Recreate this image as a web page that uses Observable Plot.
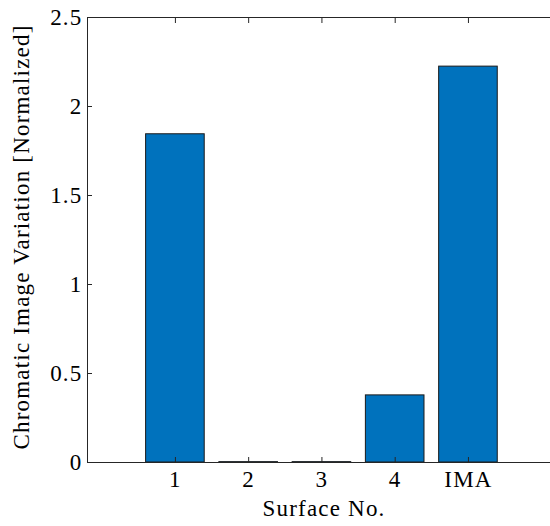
<!DOCTYPE html>
<html>
<head>
<meta charset="utf-8">
<script src="https://cdn.jsdelivr.net/npm/d3@7"></script>
<script src="https://cdn.jsdelivr.net/npm/@observablehq/plot@0.6"></script>
<style>
  html, body { margin: 0; padding: 0; background: #fff; }
  #chart svg { display: block; }
  #chart svg text { letter-spacing: 1.2px; }
</style>
</head>
<body>
<div id="chart"></div>
<script>
// Chromatic image variation per optical surface (normalized)
const surfaces = ["1", "2", "3", "4", "IMA"];
const positions = [1, 2, 3, 4, 5];
const variation = [1.844, 0.002, 0.002, 0.377, 2.224];
const yTicks = [0, 0.5, 1, 1.5, 2, 2.5];
const xDomain = [-0.2, 6.12];
const yDomain = [0, 2.5];
const barWidth = 0.8;

const bars = surfaces.map((s, i) => ({surface: s, pos: positions[i], value: variation[i]}));
const axisColor = "#262626";
const font = "'Liberation Serif', 'Times New Roman', serif";
const fs = 23;

const chart = Plot.plot({
  width: 550,
  height: 526,
  marginLeft: 87,
  marginRight: 0,
  marginTop: 17,
  marginBottom: 64,
  style: {fontFamily: font, fontSize: fs + "px", color: "#000", background: "#fff"},
  x: {type: "linear", domain: xDomain},
  y: {domain: yDomain},
  marks: [
    Plot.rectY(bars, {
      x1: d => d.pos - barWidth / 2,
      x2: d => d.pos + barWidth / 2,
      y1: 0,
      y2: "value",
      fill: "#0072BD",
      stroke: "#1a1a1a",
      strokeWidth: 1
    }),
    // axes box (left, bottom, top)
    Plot.ruleY([yDomain[0], yDomain[1]], {stroke: axisColor, strokeWidth: 1}),
    Plot.ruleX([xDomain[0]], {stroke: axisColor, strokeWidth: 1}),
    // inward ticks
    Plot.axisX(positions, {anchor: "bottom", tickSize: 5, dy: -5, fill: "none", stroke: axisColor, label: null}),
    Plot.axisX(positions, {anchor: "top", tickSize: 5, dy: 5, fill: "none", stroke: axisColor, label: null}),
    Plot.axisY(yTicks, {anchor: "left", tickSize: 5, dx: 5, fill: "none", stroke: axisColor, label: null}),
    // tick labels
    Plot.axisX(positions, {
      anchor: "bottom", tickSize: 0, tickPadding: 8,
      tickFormat: p => surfaces[positions.indexOf(p)],
      fill: "#000", fontSize: fs, label: null
    }),
    Plot.axisY(yTicks, {
      anchor: "left", tickSize: 0, tickPadding: 5,
      tickFormat: d => String(d),
      fill: "#000", fontSize: fs, label: null
    }),
    // axis titles
    Plot.text(["Surface No."], {
      frameAnchor: "bottom", dx: 5, dy: 46, lineAnchor: "middle", textAnchor: "middle",
      fill: "#000", fontSize: fs, fontFamily: font
    }),
    Plot.text(["Chromatic Image Variation [Normalized]"], {
      frameAnchor: "left", dx: -66, dy: -3, rotate: -90, lineAnchor: "middle", textAnchor: "middle",
      fill: "#000", fontSize: fs, fontFamily: font
    })
  ]
});

document.getElementById("chart").appendChild(chart);
</script>
</body>
</html>
